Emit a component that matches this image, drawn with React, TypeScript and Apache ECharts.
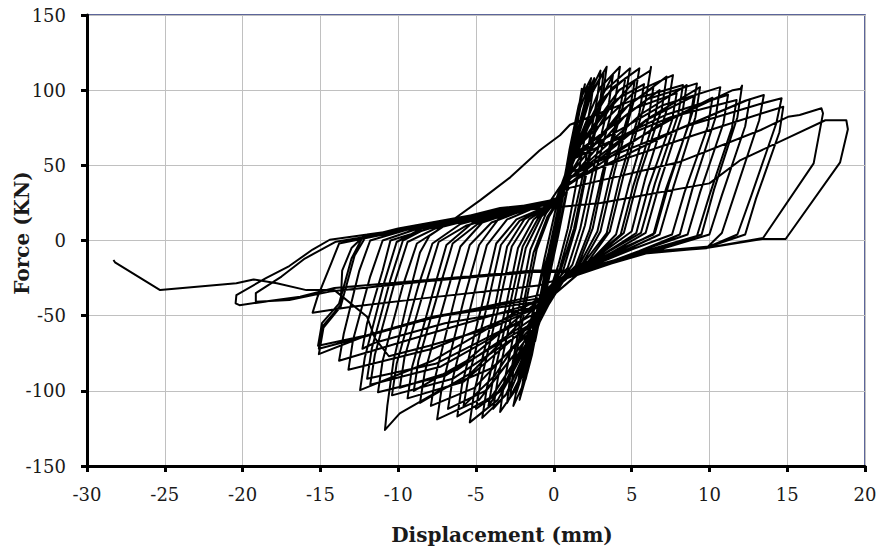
import React, { useEffect, useRef } from "react";
import * as echarts from "echarts";

// x ticks / y ticks
const xTicks = { min: -30, max: 20, step: 5 };
const yTicks = { min: -150, max: 150, step: 50 };

// Displacement (mm), Force (kN) pairs, in loading order
const initialCycles: number[][] = [
  [0, 0], [0.3, 15], [0.5, 24], [0.35, 16], [0, -2], [-0.35, -18], [-0.5, -26], [-0.3, -14],
  [0, 2], [0.5, 30], [0.8, 46], [0.55, 32], [0.05, 2], [-0.5, -30], [-0.8, -47], [-0.55, -30],
  [-0.05, 0], [0.6, 36], [1.1, 64], [1.2, 68], [0.85, 48], [0.2, 10], [-0.6, -36], [-1.1, -62], [-1.2, -67], [-0.8, -44],
  [-0.1, -2], [0.8, 46], [1.5, 84], [1.7, 92], [1.4, 74], [0.5, 24], [-0.5, -28], [-1.4, -76], [-1.7, -88], [-1.4, -70],
  [-0.4, -18], [0.6, 30], [1.6, 86], [1.8, 101], [1.6, 88], [0.7, 36], [-0.3, -18], [-1.5, -78], [-2.0, -94], [-1.7, -76],
  [-0.6, -24], [0.5, 26], [1.7, 88], [2.2, 102], [2.0, 90], [1.1, 48], [0.1, -4], [-1.3, -66], [-2.4, -101], [-2.2, -88], [-1.2, -40],
  [0.2, 12], [1.0, 60], [1.6, 90], [1.9, 100], [1.7, 92], [1.0, 55], [0.1, 2], [-0.9, -50], [-1.7, -88], [-2.1, -100], [-1.9, -90], [-1.1, -50],
  [-0.1, 0], [0.8, 48], [1.5, 82], [2.0, 104], [1.8, 96], [1.1, 58], [0.2, 8], [-0.8, -46], [-1.6, -84], [-2.2, -106], [-2.0, -96], [-1.2, -55],
  [-0.3, -6], [0.7, 42], [1.7, 94], [2.4, 108], [2.2, 98], [1.3, 56], [0.3, 4], [-0.7, -44], [-1.8, -92], [-2.6, -110], [-2.4, -100], [-1.5, -58], [-0.6, -12],
];

const midCyclesA: number[][] = [
  [0.1, 20], [1.3, 60], [2.3, 98], [3.0, 113], [2.8, 95], [1.9, 45], [1.1, 8], [0.4, -18], [-0.9, -52], [-2.1, -90], [-3.0, -108], [-2.8, -90], [-2.0, -45], [-1.3, -8], [-0.4, 16],
  [0.3, 27], [1.2, 58], [2.5, 100], [3.4, 115.6], [3.15, 96], [2.2, 50], [1.4, 8], [0.6, -20], [-1.1, -58], [-2.5, -100], [-3.45, -114], [-3.2, -95], [-2.3, -48], [-1.5, -6], [-0.5, 18],
  [0.4, 30], [1.4, 62], [3.0, 102], [4.25, 115.6], [4.0, 97], [2.8, 50], [2.0, 10], [1.2, -16], [0.2, -30], [-1.2, -60], [-3.1, -103], [-4.6, -118], [-4.3, -98], [-3.1, -45], [-2.3, -5], [-1.3, 14],
  [0.1, 26], [1.3, 60], [3.3, 100], [4.9, 114.5], [4.6, 95], [3.3, 48], [2.5, 8], [1.5, -18], [0.1, -32], [-1.3, -62], [-3.6, -106], [-5.4, -121], [-5.1, -100], [-3.8, -45], [-3.0, -4], [-1.9, 14],
  [0.3, 27], [1.5, 64], [3.7, 101], [5.5, 114.5], [5.2, 95], [3.9, 46], [3.0, 6], [1.7, -18], [0.3, -30], [-1.1, -58], [-4.0, -104], [-6.2, -117], [-5.9, -96], [-4.6, -42], [-3.7, -2], [-2.4, 14],
];

const repeatCyclesA: number[][] = [
  [0.3, 26], [1.2, 60], [2.1, 96], [2.6, 108], [2.4, 92], [1.6, 46], [0.9, 8], [0.3, -16], [-0.9, -54], [-2.0, -88], [-2.8, -104], [-2.6, -86], [-1.8, -42], [-1.1, -6], [-0.3, 16],
  [0.4, 28], [1.3, 60], [2.4, 97], [3.2, 112], [3.0, 94], [2.1, 48], [1.3, 8], [0.5, -18], [-1.0, -56], [-2.7, -98], [-3.9, -112], [-3.6, -92], [-2.6, -44], [-1.8, -5], [-0.8, 16],
  [0.2, 26], [1.0, 46], [2.9, 92], [3.8, 110], [3.55, 92], [2.5, 46], [1.7, 8], [0.9, -18], [-0.1, -30], [-0.7, -40], [-3.0, -92], [-4.2, -110], [-3.9, -92], [-2.8, -42], [-2.0, -4], [-1.0, 15],
  [0.3, 27], [1.4, 60], [3.3, 96], [4.6, 108], [4.3, 90], [3.1, 44], [2.3, 7], [1.4, -17], [0.1, -30], [-1.2, -58], [-3.4, -100], [-5.0, -112], [-4.7, -94], [-3.5, -42], [-2.7, -4], [-1.6, 14],
  [0.2, 26], [0.9, 42], [3.6, 88], [5.2, 106], [4.9, 88], [3.6, 42], [2.8, 6], [1.6, -17], [0.2, -30], [-0.6, -40], [-3.8, -90], [-5.8, -110], [-5.5, -92], [-4.2, -40], [-3.4, -3], [-2.2, 13],
  [0.3, 27], [1.3, 58], [3.9, 93], [5.8, 104], [5.5, 85], [4.2, 40], [3.4, 5], [2.0, -14], [0.4, -27], [-1.1, -57], [-4.4, -100], [-6.8, -112], [-6.5, -92], [-5.2, -38], [-4.3, -3], [-3.0, 14],
];

const midCyclesB: number[][] = [
  [0.2, 28], [1.4, 60], [4.2, 100], [6.2, 113], [6.25, 115.5], [5.9, 93], [4.5, 44], [3.6, 6], [2.2, -14], [0.4, -28], [-1.2, -58], [-4.8, -106], [-7.5, -119], [-7.2, -98], [-5.8, -40], [-4.8, -3], [-3.5, 15],
  [0.2, 26], [0.9, 42], [4.3, 86], [6.4, 102], [6.1, 82], [4.8, 36], [4.0, 4], [2.5, -12], [0.6, -24], [-0.6, -38], [-5.3, -88], [-8.6, -108], [-8.3, -88], [-6.9, -36], [-6.0, -4], [-4.6, 12], [-1.0, 24],
  [0.4, 29], [1.0, 44], [4.8, 90], [7.25, 109], [6.95, 88], [5.4, 40], [4.5, 5], [2.8, -10], [1.0, -22], [-0.1, -30], [-0.9, -50], [-5.8, -94], [-9.4, -105], [-9.1, -84], [-7.7, -32], [-6.9, -3], [-5.2, 12], [-1.5, 23],
  [0.3, 28], [1.5, 62], [5.1, 98], [7.66, 110], [7.35, 90], [5.9, 42], [5.0, 6], [3.0, -9], [1.2, -22], [0, -30], [-1.2, -58], [-4, -85], [-7.3, -99.5], [-9.9, -115], [-10.85, -126], [-10.7, -110], [-10.3, -80], [-9.4, -40], [-8.6, -8], [-8.0, 3],
  [-6.5, 13.6], [-4.7, 27], [-2.8, 42], [-0.9, 60], [0.4, 70], [1.04, 77],
  [5.5, 95], [8.3, 103.4], [8.0, 84], [6.5, 38], [5.6, 5], [3.4, -8], [1.4, -20], [0.1, -29], [-1.0, -54], [-6.5, -92], [-10.4, -103], [-10.1, -82], [-8.7, -30], [-7.8, -2], [-6.0, 11], [-2.0, 22],
];

const repeatCyclesB: number[][] = [
  [0.2, 27], [0.8, 38], [4.5, 82], [6.8, 100], [6.5, 82], [5.1, 36], [4.3, 4], [2.6, -11], [0.8, -24], [-0.9, -52], [-5.1, -98], [-7.9, -110], [-7.6, -90], [-6.3, -36], [-5.4, -3], [-4.0, 12], [-1.2, 23],
  [0.3, 27], [1.3, 56], [5.2, 88], [7.9, 98], [7.6, 80], [6.1, 36], [5.3, 5], [3.2, -9], [1.2, -21], [0, -29], [-0.5, -36], [-5.6, -80], [-9.0, -100], [-8.7, -80], [-7.3, -30], [-6.5, -2], [-4.9, 11], [-1.6, 22],
  [0.3, 27], [0.9, 40], [5.9, 80], [9.0, 96], [8.7, 78], [7.2, 34], [6.4, 4], [4.0, -7], [1.5, -20], [0, -28], [-0.8, -48], [-6.2, -86], [-9.9, -98], [-9.6, -78], [-8.2, -28], [-7.4, -1], [-5.6, 10], [-2.0, 21],
];

const midCyclesC: number[][] = [
  [0.3, 27], [0.9, 40], [5.6, 84], [8.54, 103.4], [8.25, 84], [6.8, 38], [5.9, 5], [3.7, -8], [1.5, -20], [0.1, -28], [-0.9, -52], [-7.0, -90], [-11.3, -101], [-11.0, -80], [-9.7, -30], [-8.8, -2], [-7.0, 10], [-2.5, 21],
  [0.4, 28], [1.4, 58], [6.0, 94], [9.2, 104.5], [8.9, 85], [7.4, 38], [6.5, 5], [4.2, -7], [1.6, -20], [0, -27], [-0.5, -36], [-7.8, -80], [-12.45, -99.5], [-12.15, -78], [-10.9, -28], [-10.1, -1], [-8.3, 9], [-3.0, 21],
  [0.2, 27], [0.8, 36], [6.2, 82], [9.4, 102], [9.1, 82], [7.7, 36], [6.8, 4], [4.5, -7], [1.7, -20], [0.2, -27], [-0.7, -46], [-7.6, -82], [-12.0, -92], [-11.7, -72], [-10.5, -26], [-9.7, 0], [-8.0, 9], [-3.2, 20],
  [0.3, 27], [1.3, 56], [7.0, 90], [10.7, 102], [10.4, 82], [8.9, 34], [8.1, 4], [5.5, -7], [1.8, -21], [0.2, -28], [-0.6, -40], [-7.8, -51], [-12, -63], [-15.1, -75.6], [-14.8, -58], [-13.7, -44], [-12.8, -10], [-12.0, 4], [-9.9, 7], [-3.5, 20],
  [0.4, 28], [1.0, 42], [7.8, 82], [11.5, 100], [12.0, 101], [12.1, 103], [11.8, 82], [10.3, 34], [9.5, 4], [6.5, -6], [1.9, -21], [0.1, -28], [-0.7, -38], [-7.8, -50.7], [-12, -63], [-15.15, -70], [-14.9, -55], [-13.8, -42], [-13.0, -12], [-12.3, 2], [-10, 8], [-3.6, 20],
  [0.3, 27], [1.2, 55], [7.5, 82], [11.75, 93.4], [11.45, 75], [10.0, 30], [9.2, 3], [6.2, -6], [1.8, -21], [0, -28], [-0.8, -36], [-8, -52], [-12.2, -64], [-15.1, -72], [-14.85, -57], [-13.7, -43], [-13.6, -20], [-13.0, -5], [-12.2, 3], [-3.5, 20],
];

const repeatCyclesC: number[][] = [
  [0.3, 27], [0.8, 36], [6.6, 76], [10.2, 95], [9.9, 76], [8.4, 32], [7.6, 4], [5.0, -6], [1.7, -20], [0.1, -28], [-0.8, -46], [-7.3, -84], [-11.8, -96], [-11.5, -76], [-10.2, -27], [-9.4, -1], [-7.6, 8], [-3.0, 20],
  [0.3, 26], [1.2, 54], [7.3, 84], [11.2, 97], [10.9, 78], [9.4, 32], [8.6, 4], [5.8, -6], [1.8, -21], [0.1, -28], [-0.7, -42], [-7.8, -72], [-13.2, -86], [-12.9, -66], [-11.8, -24], [-11.0, 0], [-9.0, 7], [-3.4, 20],
  [0.3, 26], [0.9, 38], [8.0, 74], [12.6, 94], [12.3, 76], [10.8, 30], [10.0, 4], [6.8, -6], [1.8, -21], [0.1, -28], [-0.7, -40], [-8, -62], [-13.8, -80], [-13.5, -62], [-12.5, -20], [-11.8, 0], [-9.5, 7], [-3.5, 20],
];

const lateCycles: number[][] = [
  [0.3, 26], [0.9, 38], [8, 74], [12.3, 93], [13.5, 96.8], [13.2, 80], [11.6, 30], [10.8, 5], [9.8, -5.2], [5.5, -8.5], [1.5, -20], [-1.3, -20], [-7.8, -26], [-14.1, -31.6], [-16.3, -37.4], [-20.2, -43], [-20.45, -41.8], [-20.4, -36.3], [-18.5, -25], [-17, -17], [-15.5, -6], [-14.4, 0.5], [-9.9, 7], [-6, 15], [-3.45, 21.6],
  [-0.3, 25], [1.0, 45], [8.5, 76], [13.3, 91], [14.64, 94.6], [14.3, 78], [12.7, 30], [11.8, 4], [10, -4], [5.5, -8.5], [1.6, -21], [-1.4, -21], [-8, -27], [-14.4, -34], [-17, -39.6], [-19.15, -40.7], [-19.15, -35], [-17.5, -24], [-16, -12], [-14, -0.8], [-10, 6], [-3.5, 20],
  [0, 24], [1.1, 42], [9, 70], [13.5, 85], [14.75, 89], [14.5, 72], [13.0, 28], [12.3, 4], [10, -4], [5.5, -8], [1.5, -22], [-1.0, -30], [-8, -38], [-13, -44], [-15.5, -48], [-15.2, -38], [-14.3, -15], [-13.8, -2], [-10, 6], [-3.5, 19],
  [0, 22], [1.0, 35], [8, 52], [13.3, 73.5], [15.05, 82.3], [15.8, 83.5], [17.2, 88], [17.3, 84.6], [16.7, 51.3], [13.45, 1.7], [9.8, -5], [5.5, -9], [1.5, -23], [-0.9, -44], [-7, -55], [-11.5, -68], [-12.3, -72], [-12, -55], [-11, -20], [-10.5, 0], [-8, 8], [-3.5, 20],
];

const finalCycle: number[][] = [
  [0, 22], [3, 25], [10, 38], [12, 53.5], [17.45, 80], [18.8, 80], [18.9, 74], [18.4, 52], [14.9, 1], [13.4, 1], [9.8, -5], [5.5, -8.5], [1.47, -23], [-0.9, -44], [-4, -58], [-8, -70], [-10.6, -77],
  [-11.5, -65], [-12, -50.7], [-14.1, -33], [-15.9, -33], [-17.8, -28.5], [-19.3, -25.9], [-20.4, -28.5], [-25.3, -33], [-28.2, -14.5], [-28.3, -13],
];

const xTitle = "Displacement (mm)";
const yTitle = "Force (KN)";

export default function App() {
  const ref = useRef<HTMLDivElement>(null);
  useEffect(() => {
    if (!ref.current) return;
    const chart = echarts.init(ref.current, undefined, { renderer: "svg" });
    const data = [
      ...initialCycles, ...midCyclesA, ...repeatCyclesA, ...midCyclesB, ...repeatCyclesB,
      ...midCyclesC, ...repeatCyclesC, ...lateCycles, ...finalCycle,
    ];
    const labelStyle = { fontFamily: "DejaVu Serif", fontSize: 18, color: "#1a1a1a" };
    chart.setOption({
      animation: false,
      backgroundColor: "#ffffff",
      grid: { left: 87, top: 15, width: 778, height: 451, show: true, borderColor: "#27337a", borderWidth: 1.5, backgroundColor: "transparent" },
      xAxis: {
        type: "value", min: xTicks.min, max: xTicks.max, interval: xTicks.step,
        axisLine: { show: true, onZero: false, lineStyle: { color: "#000", width: 3 } },
        axisTick: { show: true, inside: false, length: 6, lineStyle: { color: "#000", width: 3 } },
        axisLabel: { ...labelStyle, margin: 19 },
        splitLine: { show: true, lineStyle: { color: "#c0c0c0", width: 1 } },
      },
      yAxis: {
        type: "value", min: yTicks.min, max: yTicks.max, interval: yTicks.step,
        axisLine: { show: true, onZero: false, lineStyle: { color: "#000", width: 3 } },
        axisTick: { show: true, inside: false, length: 6, lineStyle: { color: "#000", width: 3 } },
        axisLabel: { ...labelStyle, margin: 21 },
        splitLine: { show: true, lineStyle: { color: "#c0c0c0", width: 1 } },
      },
      series: [
        {
          type: "line",
          data,
          showSymbol: false,
          symbol: "none",
          smooth: false,
          clip: true,
          lineStyle: { color: "#000", width: 2, join: "round" },
        },
      ],
      graphic: [
        {
          type: "text", x: 502, y: 535,
          style: { text: xTitle, fontFamily: "DejaVu Serif", fontWeight: "bold", fontSize: 20, fill: "#1a1a1a", align: "center", verticalAlign: "middle" },
        },
        {
          type: "text", x: 22, y: 233, rotation: Math.PI / 2,
          style: { text: yTitle, fontFamily: "DejaVu Serif", fontWeight: "bold", fontSize: 20, fill: "#1a1a1a", align: "center", verticalAlign: "middle" },
        },
      ],
    });
    return () => chart.dispose();
  }, []);
  return <div ref={ref} style={{ position: "fixed", left: 0, top: 0, width: 881, height: 552 }} />;
}
